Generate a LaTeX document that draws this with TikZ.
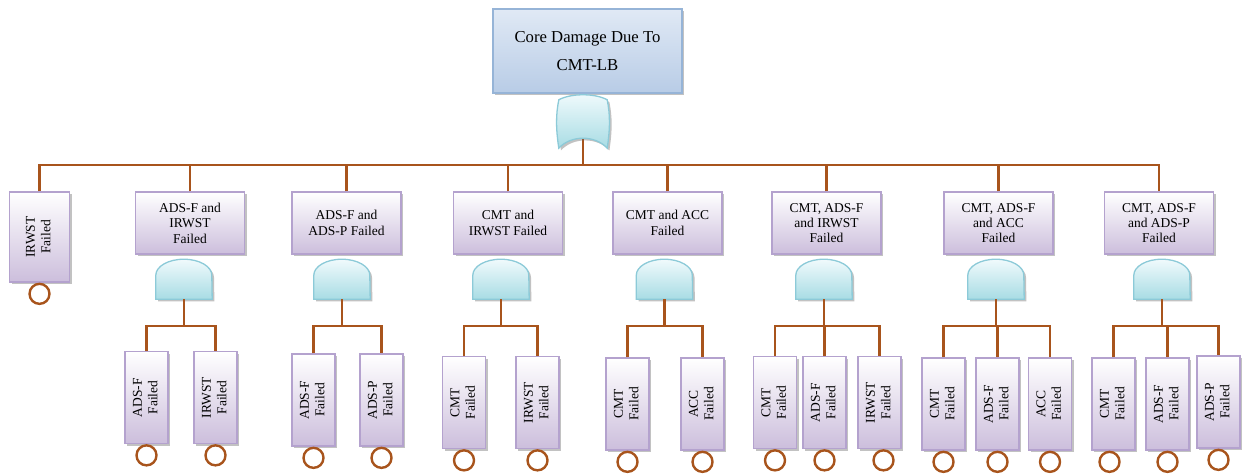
\documentclass[tikz,border=0pt]{standalone}
\usepackage{fontspec}
\setmainfont{Liberation Serif}
\usepackage{graphicx}
\usetikzlibrary{shadows,calc}
\definecolor{wirec}{RGB}{168,84,28}
\definecolor{boxline}{RGB}{180,162,206}
\definecolor{boxbot}{RGB}{204,190,220}
\definecolor{gateline}{RGB}{140,202,216}
\definecolor{gatebot}{RGB}{168,220,228}
\definecolor{gatetop}{RGB}{240,250,252}
\definecolor{topline}{RGB}{150,180,215}
\definecolor{toptop}{RGB}{224,233,245}
\definecolor{topbot}{RGB}{184,204,230}
\newcommand{\vtext}[2]{\rotatebox{90}{\begin{tabular}{@{}c@{}}#1\\#2\end{tabular}}}
\newcommand{\andgate}[2]{%
  \node[gatebox] (#1) at (#2) {};
  \shade[gateshape] (#1.south west) -- ++(0pt,24pt)
    arc[start angle=180, end angle=0, x radius=28pt, y radius=16pt]
    -- (#1.south east) -- cycle;}
\tikzset{
  wire/.style={draw=wirec, line width=2.4pt},
  shad/.style={drop shadow={shadow xshift=2.2pt, shadow yshift=-2.2pt, opacity=0.4, fill=black!60}},
  evbox/.style={draw=boxline, line width=1.3pt, top color=white, bottom color=boxbot, shad,
    inner sep=0pt, align=center, font=\fontsize{13.5}{15.4}\selectfont},
  midbox/.style={evbox, minimum width=109pt, minimum height=62pt},
  leaf/.style={evbox, minimum width=43pt, minimum height=92pt},
  topbox/.style={draw=topline, line width=1.3pt, top color=toptop, bottom color=topbot, shad,
    minimum width=189pt, minimum height=84pt, inner sep=0pt, align=center,
    font=\fontsize{16.7}{28}\selectfont},
  gatebox/.style={draw=none, inner sep=0pt, minimum width=56pt, minimum height=40pt},
  gateshape/.style={draw=gateline, line width=1.3pt, top color=gatetop, bottom color=gatebot, shad},
  basic/.style={circle, draw=wirec, line width=2.4pt, minimum size=20pt, inner sep=0pt, anchor=north},
}
\begin{document}
\begin{tikzpicture}[x=1pt, y=-1pt]
\useasboundingbox (0,0) rectangle (1244,475);
\coordinate (busy) at (0,165);
\coordinate (y3) at (0,326);

% top event
\node[topbox] (top) at (587.5,51) {Core Damage Due To\\CMT-LB};
\node[draw=none, inner sep=0pt, minimum width=48pt, minimum height=53pt] (og) at (583,121.5) {};

% second row
\node[evbox, minimum width=60pt, minimum height=90pt] (r1) at (39.5,237) {\vtext{IRWST}{Failed}};
\node[midbox] (r2) at (190,223) {ADS-F and\\IRWST\\Failed};
\node[midbox] (r3) at (346.5,223) {ADS-F and\\ADS-P Failed};
\node[midbox] (r4) at (508,223) {CMT and\\IRWST Failed};
\node[midbox] (r5) at (667.5,223) {CMT and ACC\\Failed};
\node[midbox] (r6) at (826.5,223) {CMT, ADS-F\\and IRWST\\Failed};
\node[midbox] (r7) at (998.5,223) {CMT, ADS-F\\and ACC\\Failed};
\node[midbox] (r8) at (1159,223) {CMT, ADS-F\\and ADS-P\\Failed};
\node[basic] (c1) at (r1.south) {};

% wires of first level
\draw[wire] ([yshift=10pt]og.south) -- (og.south |- busy);
\draw[wire] (r1.north) |- (r8.north |- busy) -- (r8.north);
\foreach \n in {r2,r3,r4,r5,r6,r7}{\draw[wire] (\n.north) -- (\n.north |- busy);}

% top OR gate
\shade[gateshape] (og.south west) .. controls +(-3pt,20pt) and +(-3pt,-15pt) .. ([yshift=-5pt]og.north west)
  .. controls +(12pt,6.7pt) and +(-12pt,6.7pt) .. ([yshift=-5pt]og.north east)
  .. controls +(3pt,-15pt) and +(3pt,20pt) .. (og.south east)
  .. controls +(-12pt,13.3pt) and +(12pt,13.3pt) .. (og.south west) -- cycle;

% AND gates
\andgate{g2}{184,279}
\andgate{g3}{342,279}
\andgate{g4}{501,279}
\andgate{g5}{664.5,279}
\andgate{g6}{824,279}
\andgate{g7}{996,279}
\andgate{g8}{1162,279}

% leaves
\node[leaf] (L2a) at (146.5,397.5) {\vtext{ADS-F}{Failed}};
\node[leaf] (L2b) at (215.5,397.5) {\vtext{IRWST}{Failed}};
\node[leaf] (L3a) at (313.5,400) {\vtext{ADS-F}{Failed}};
\node[leaf] (L3b) at (381.5,400) {\vtext{ADS-P}{Failed}};
\node[leaf] (L4a) at (464,402.5) {\vtext{CMT}{Failed}};
\node[leaf] (L4b) at (537.5,402.5) {\vtext{IRWST}{Failed}};
\node[leaf] (L5a) at (627.5,404) {\vtext{CMT}{Failed}};
\node[leaf] (L5b) at (702.5,404) {\vtext{ACC}{Failed}};
\node[leaf] (L6a) at (775,402.5) {\vtext{CMT}{Failed}};
\node[leaf] (L6b) at (824.5,402.5) {\vtext{ADS-F}{Failed}};
\node[leaf] (L6c) at (879.5,402.5) {\vtext{IRWST}{Failed}};
\node[leaf] (L7a) at (943.5,404) {\vtext{CMT}{Failed}};
\node[leaf] (L7b) at (997.5,404) {\vtext{ADS-F}{Failed}};
\node[leaf] (L7c) at (1050,404) {\vtext{ACC}{Failed}};
\node[leaf] (L8a) at (1113.5,404) {\vtext{CMT}{Failed}};
\node[leaf] (L8b) at (1167.5,404) {\vtext{ADS-F}{Failed}};
\node[leaf] (L8c) at (1218.5,402) {\vtext{ADS-P}{Failed}};

% basic event circles
\foreach \n in {L2a,L2b,L3a,L3b,L4a,L4b,L5a,L5b,L6a,L6b,L7a,L7b,L7c,L8b,L8c}{\node[basic] (c\n) at (\n.south) {};}
\node[basic] (cL6c) at ([xshift=4pt]L6c.south) {};
\node[basic] (cL8a) at ([xshift=-4pt]L8a.south) {};

% wires of second level
\foreach \g/\a/\b in {g2/L2a/L2b, g3/L3a/L3b, g4/L4a/L4b, g5/L5a/L5b, g6/L6a/L6c, g7/L7a/L7c, g8/L8a/L8c}{
  \draw[wire] (\g.south) -- (\g.south |- y3);
  \draw[wire] (\a.north) |- (\g.south |- y3) -| (\b.north);
}
\foreach \g/\m in {g6/L6b, g7/L7b, g8/L8b}{\draw[wire] (\g.south |- y3) -| (\m.north);}
\end{tikzpicture}
\end{document}
